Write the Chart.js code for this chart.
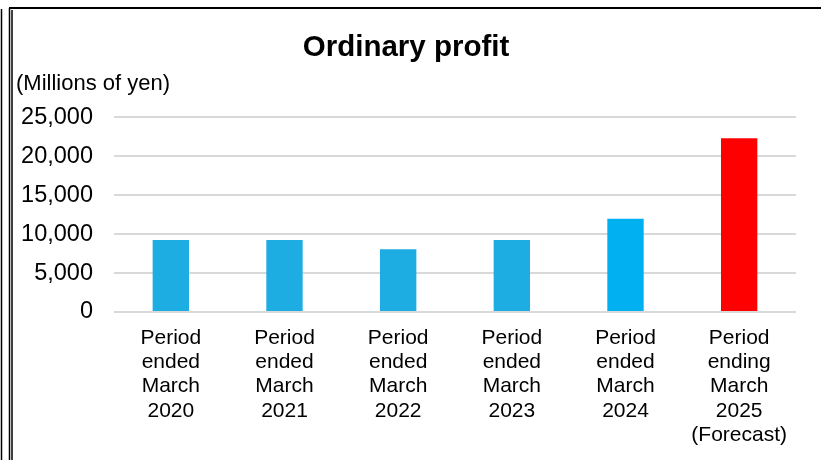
<!DOCTYPE html>
<html>
<head>
<meta charset="utf-8">
<script src="https://cdn.jsdelivr.net/npm/chart.js@4"></script>
<style>
  html, body { margin: 0; padding: 0; background: #fff; }
  #wrap { width: 821px; height: 460px; position: relative; }
</style>
</head>
<body>
<div id="wrap"><canvas id="profit"></canvas></div>
<script>
// data (millions of yen)
var periods = [
  ["Period", "ended", "March", "2020"],
  ["Period", "ended", "March", "2021"],
  ["Period", "ended", "March", "2022"],
  ["Period", "ended", "March", "2023"],
  ["Period", "ended", "March", "2024"],
  ["Period", "ending", "March", "2025", "(Forecast)"]
];
var profit = [9250, 9250, 8050, 9250, 11950, 22300];
var yTicks = [0, 5000, 10000, 15000, 20000, 25000];

var barColors = ["#1eade3", "#1eade3", "#1eade3", "#1eade3", "#00b0f0", "#ff0000"];
var font = "'Liberation Sans', Arial, sans-serif";

// the frame lines round the picture
var framePlugin = {
  id: "frame",
  afterDraw: function(chart) {
    var c = chart.ctx;
    c.save();
    c.strokeStyle = "#000";
    c.lineWidth = 1.5;
    c.beginPath();
    c.moveTo(1.5, 9); c.lineTo(1.5, 460);
    c.moveTo(9.5, 8); c.lineTo(9.5, 460);
    c.moveTo(12, 10); c.lineTo(12, 460);
    c.stroke();
    c.lineWidth = 2;
    c.beginPath();
    c.moveTo(9, 8); c.lineTo(821, 8);
    c.stroke();
    c.restore();
  }
};

new Chart(document.getElementById("profit"), {
  type: "bar",
  data: {
    labels: periods,
    datasets: [{
      data: profit,
      backgroundColor: barColors,
      barPercentage: 0.32,
      categoryPercentage: 1
    }]
  },
  options: {
    responsive: true,
    maintainAspectRatio: false,
    animation: false,
    layout: { padding: { left: 16, right: 25, top: 8, bottom: 5 } },
    plugins: {
      legend: { display: false },
      tooltip: { enabled: false },
      title: {
        display: true,
        text: "Ordinary profit",
        color: "#000",
        font: { family: font, size: 29.5, weight: "bold", lineHeight: 1.2 },
        padding: { top: 22.3, bottom: 2.4 }
      },
      subtitle: {
        display: true,
        text: "(Millions of yen)",
        align: "start",
        color: "#000",
        font: { family: font, size: 22, lineHeight: 1.2 },
        padding: { top: 3, bottom: 19.6 }
      }
    },
    scales: {
      x: {
        grid: { display: false, drawTicks: false },
        border: { display: false },
        ticks: {
          color: "#000",
          padding: 14,
          maxRotation: 0,
          autoSkip: false,
          font: { family: font, size: 21, lineHeight: 1.155 }
        },
        afterFit: function(s) { s.height = 143; }
      },
      y: {
        min: 0,
        max: 25000,
        afterBuildTicks: function(s) { s.ticks = yTicks.map(function(v) { return { value: v }; }); },
        grid: { color: "#d9d9d9", lineWidth: 2, drawTicks: false },
        border: { display: false },
        ticks: {
          color: "#000",
          padding: 21,
          font: { family: font, size: 23.5 },
          callback: function(v) { return v.toLocaleString("en-US"); }
        },
        afterFit: function(s) { s.width = 98; }
      }
    }
  },
  plugins: [framePlugin]
});
</script>
</body>
</html>
